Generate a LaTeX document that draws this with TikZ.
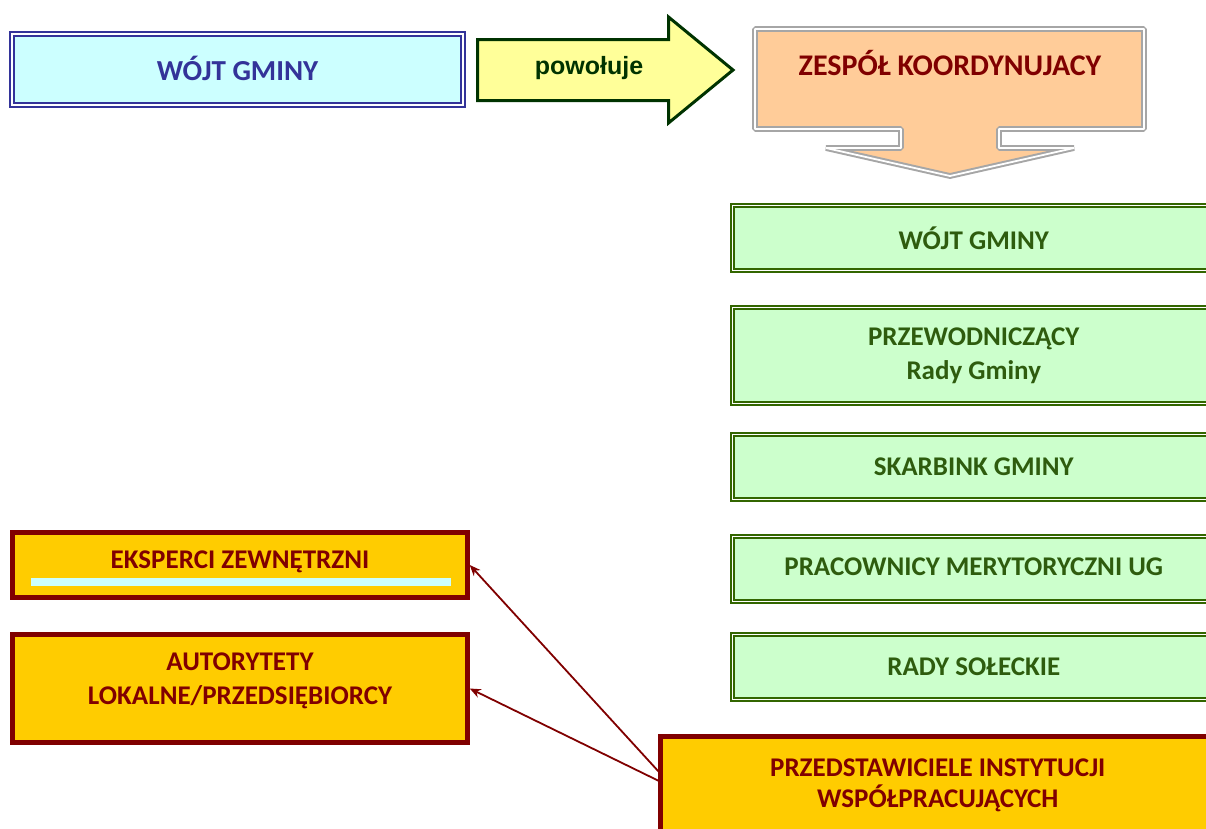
\documentclass[tikz,border=0pt]{standalone}
\usepackage{fontspec}
\setmainfont{Carlito}
\newfontfamily\arialfont{Liberation Sans}
\usetikzlibrary{arrows.meta}
\definecolor{wblue}{HTML}{333399}
\definecolor{wcyan}{HTML}{CCFFFF}
\definecolor{ayel}{HTML}{FFFF99}
\definecolor{adkgreen}{HTML}{003300}
\definecolor{zorange}{HTML}{FFCC99}
\definecolor{zgray}{HTML}{A6A6A6}
\definecolor{zred}{HTML}{800000}
\definecolor{ggreen}{HTML}{CCFFCC}
\definecolor{gline}{HTML}{336600}
\definecolor{gtext}{HTML}{2E5C0E}
\definecolor{ygold}{HTML}{FFCC00}
\begin{document}
\begin{tikzpicture}[x=1pt,y=-1pt,
  txt/.style={font=\bfseries\fontsize{27}{34}\selectfont, align=center, inner sep=0pt},
  bluebox/.style={draw=wblue, double=white, line width=2pt, double distance=1.8pt, fill=wcyan, inner sep=0pt},
  greenbox/.style={draw=gline, double=white, line width=2pt, double distance=1.2pt, fill=ggreen, inner sep=0pt, minimum width=482.5pt, minimum height=65pt},
  goldbox/.style={draw=zred, line width=4.5pt, fill=ygold, inner sep=0pt, minimum width=455pt},
  link/.style={draw=zred, line width=1.8pt, -{Stealth[length=11pt,width=9pt]}}
]
\useasboundingbox (0,0) rectangle (1206,828);

% top left box
\node[bluebox, minimum width=451pt, minimum height=71pt] (wojt) at (237.5,69.5) {};
\node[txt, text=wblue, font=\bfseries\fontsize{29}{34}\selectfont] (wojtt) at (237.5,68) {WÓJT GMINY};

% powołuje arrow
\draw[draw=adkgreen, line width=3pt, fill=ayel, line join=miter]
  (477.5,39.5) -- (668.5,39.5) -- (668.5,17) -- (733,70) -- (668.5,123) -- (668.5,100.5) -- (477.5,100.5) -- cycle;
\node[inner sep=0pt, text=adkgreen, font=\arialfont\bfseries\fontsize{25}{30}\selectfont] (pow) at (589,68) {powołuje};

% zespół arrow box
\draw[draw=zgray, double=white, line width=2pt, double distance=1.8pt, fill=zorange, line join=bevel]
  (755,29) -- (1144,29) -- (1144,129) -- (999,129) -- (999,148) -- (1074,148) -- (950,176)
  -- (826,148) -- (901,148) -- (901,129) -- (755,129) -- cycle;
\node[txt, text=zred, font=\bfseries\fontsize{30}{34}\selectfont] (zesp) at (950,63) {ZESPÓŁ KOORDYNUJACY};

% green column
\node[greenbox] (g1) at (973.75,238) {};
\node[txt, text=gtext] at (g1) {WÓJT GMINY};
\node[greenbox, minimum height=96pt] (g2) at (973.75,355.5) {};
\node[txt, text=gtext] at (973.75,356) {PRZEWODNICZĄCY\\Rady Gminy};
\node[greenbox] (g3) at (973.75,467) {};
\node[txt, text=gtext] at (g3) {SKARBINK GMINY};
\node[greenbox] (g4) at (973.75,569) {};
\node[txt, text=gtext] at (973.75,567) {PRACOWNICY MERYTORYCZNI UG};
\node[greenbox] (g5) at (973.75,667) {};
\node[txt, text=gtext] at (g5) {RADY SOŁECKIE};

% gold boxes
\node[goldbox, minimum height=65pt] (eks) at (240,565) {};
\fill[wcyan] (31,578) rectangle (451,586);
\node[txt, text=zred] at (240,562) {EKSPERCI ZEWNĘTRZNI};
\node[goldbox, minimum height=108pt] (aut) at (240,688.5) {};
\node[txt, text=zred] at (240,681) {AUTORYTETY\\LOKALNE/PRZEDSIĘBIORCY};
\node[goldbox, minimum width=554.5pt, minimum height=103.5pt] (prz) at (937.75,788.25) {};
\node[txt, text=zred, font=\bfseries\fontsize{27}{31}\selectfont] at (937.75,785) {PRZEDSTAWICIELE INSTYTUCJI\\WSPÓŁPRACUJĄCYCH};

% connectors
\coordinate (s1) at (659,772);
\coordinate (s2) at (659,781);
\draw[link] (s1) -- (eks.east);
\draw[link] (s2) -- (aut.east);
\end{tikzpicture}
\end{document}
